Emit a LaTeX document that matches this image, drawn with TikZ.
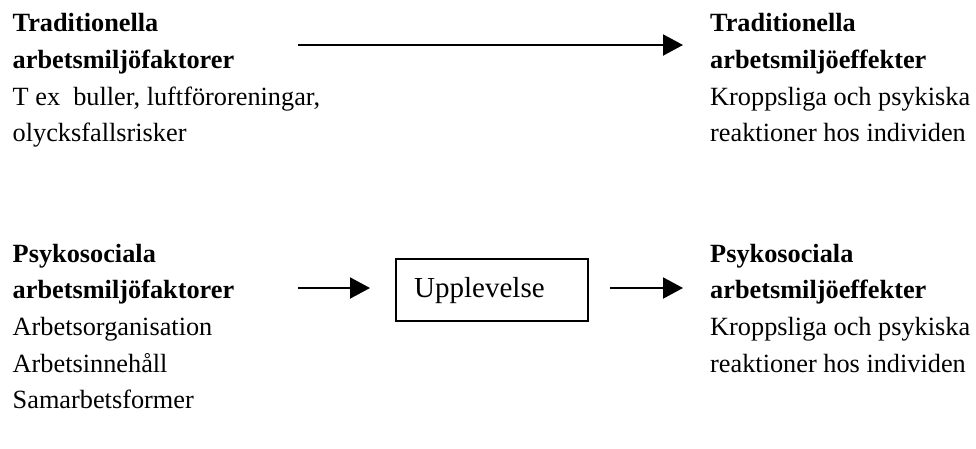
\documentclass[tikz,border=0pt]{standalone}
\usepackage{fontspec}
\setmainfont{Liberation Serif}
\usetikzlibrary{arrows.meta}
\tikzset{
  txt/.style={anchor=base west, inner sep=0pt, font=\fontsize{26.3}{30}\selectfont},
  hd/.style={txt, font=\fontsize{26.3}{30}\selectfont\bfseries},
  boxtxt/.style={txt, font=\fontsize{29}{33}\selectfont},
  flow/.style={line width=2pt, -{Triangle[length=20pt,width=21pt]}},
  boxed/.style={draw, line width=2pt, minimum width=192pt, minimum height=62pt,
    inner sep=0pt}
}
\begin{document}
\begin{tikzpicture}[x=1pt,y=-1pt]
\useasboundingbox (0,0) rectangle (976,448);
% traditional factors and effects
\node[hd]  (t1) at (12.5,31) {Traditionella};
\node[hd]  (t2) at (12.5,68) {arbetsmiljöfaktorer};
\node[txt] (t3) at (12.5,105) {T ex\ \ buller, luftföroreningar,};
\node[txt] (t4) at (12.5,141) {olycksfallsrisker};
\node[hd]  (e1) at (710,31) {Traditionella};
\node[hd]  (e2) at (710,68) {arbetsmiljöeffekter};
\node[txt] (e3) at (710,105) {Kroppsliga och psykiska};
\node[txt] (e4) at (710,141) {reaktioner hos individen};
% psychosocial factors and effects
\node[hd]  (p1) at (12.5,262) {Psykosociala};
\node[hd]  (p2) at (12.5,298) {arbetsmiljöfaktorer};
\node[txt] (p3) at (12.5,335) {Arbetsorganisation};
\node[txt] (p4) at (12.5,372) {Arbetsinnehåll};
\node[txt] (p5) at (12.5,408) {Samarbetsformer};
\node[hd]  (q1) at (710,262) {Psykosociala};
\node[hd]  (q2) at (710,298) {arbetsmiljöeffekter};
\node[txt] (q3) at (710,335) {Kroppsliga och psykiska};
\node[txt] (q4) at (710,372) {reaktioner hos individen};
% experience box
\node[boxed, anchor=north west] (up) at (395,258) {};
\node[boxtxt] (upt) at (414,297) {Upplevelse};
% connectors
\coordinate (a0) at (298,45);
\coordinate (a1) at (683,45);
\coordinate (b0) at (298,288);
\coordinate (b1) at (370,288);
\coordinate (c0) at (610,288);
\coordinate (c1) at (683,288);
\draw[flow] (a0) -- (a1);
\draw[flow] (b0) -- (b1);
\draw[flow] (c0) -- (c1);
\end{tikzpicture}
\end{document}
